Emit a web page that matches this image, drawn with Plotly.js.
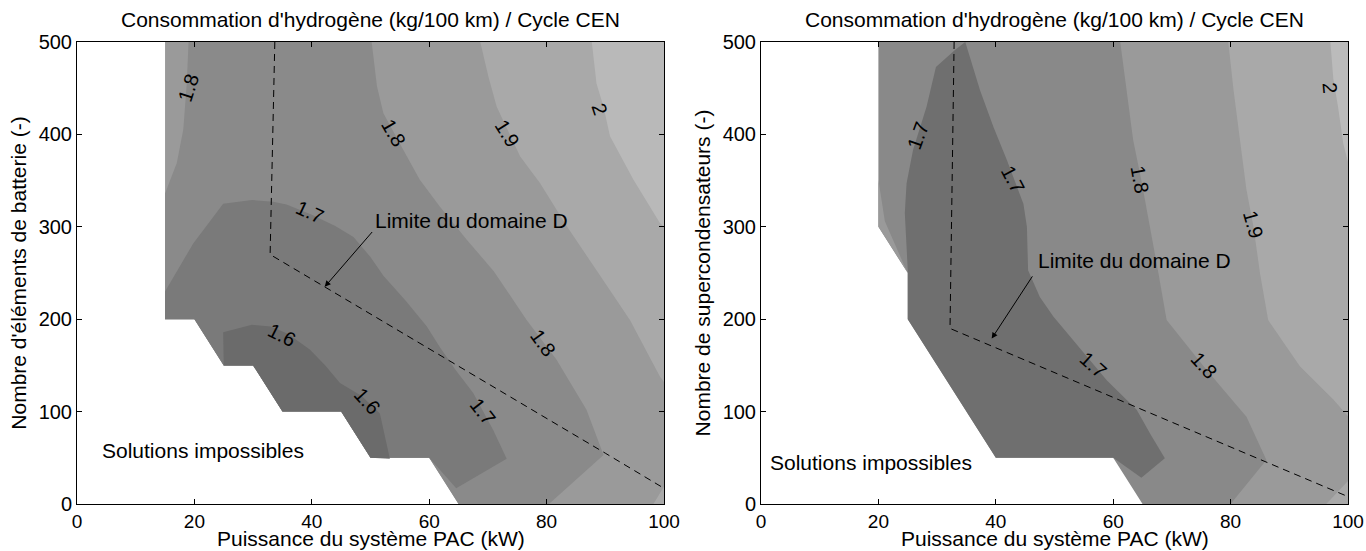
<!DOCTYPE html>
<html><head><meta charset="utf-8">
<script src="https://cdn.plot.ly/plotly-3.0.1.min.js"></script>
<style>html,body{margin:0;padding:0;background:#fff}#chart{width:1366px;height:551px}</style>
</head><body><div id="chart"></div>
<script>
// ===== Left chart: battery (kW vs number of battery cells) =====
const leftDomainX = [15,100,100,65,60,50,45,35,30,25,20,15];
const leftDomainY = [500,500,0,0,50,50,100,100,150,150,200,200];
const leftAbove19X = [68.7,70.1,71.5,75.5,78.9,83.5,88.5,94.2,99.3,100,100];
const leftAbove19Y = [500,462,430,376,347,300,253,199,138,132,500];
const leftCorner19X = [98.2,100,100];
const leftCorner19Y = [0,19,0];
const leftAbove20X = [87.7,88.5,89.7,90.8,94.8,99.3,100,100];
const leftAbove20Y = [500,455,430,398,351,304,300,500];
const leftBelow18X = [19,50.2,51.1,52.2,55.6,58.4,61.8,66.4,71,76.6,81.7,86.8,89.7,80.4,65,60,50,45,35,30,25,20,15,15,17,18.1,18.7];
const leftBelow18Y = [500,500,452,423,383,351,322,286,252,199,156,102,53,0,0,50,50,100,100,150,150,200,200,336,369,405,455];
const leftBelow17X = [15,19.8,24.9,29.8,33.4,35.7,40,44,47.1,49.9,52.2,56,59.6,61.8,64.5,67.5,70.9,73.2,64.6,60,50,45,35,30,25,20,15];
const leftBelow17Y = [230,282,325,329,327,324,313,301,289,268,247,220,192,170,145,120,80,49,17,50,50,100,100,150,150,200,200];
const leftBelow16X = [24.9,29.8,33,36,39.7,42.3,44.8,48.5,51.6,53.3,50,45,35,30,25];
const leftBelow16Y = [186,194,192,184,167,150,131,117,98,49,50,100,100,150,150];
const leftLimitX = [33.7,32.9,90,100];
const leftLimitY = [500,270,55,17];
const leftLabelText = ['1.8','1.8','1.9','2','1.7','1.6','1.6','1.7','1.8'];
const leftLabelX = [19.0,53.9,73.2,89.1,39.7,34.9,49.4,69.2,79.4];
const leftLabelY = [450,401,401,428,316,183,111,100,174];
const leftLabelAngle = [-72,60,58,72,25,27,48,52,54];

// ===== Right chart: supercapacitors =====
const rightDomainX = [20,100,100,65,60,40,25,25,20];
const rightDomainY = [500,500,0,0,50,50,200,250,300];
const rightAbove18X = [61.2,62.3,63.4,64.8,66.3,67.7,69.1,72.5,75.4,79,82.7,86.1,80,100,100];
const rightAbove18Y = [500,448,394,350,300,250,199,172,149,122,94.5,47.6,0,0,500];
const rightSliver18X = [20,21.1,24.9,20];
const rightSliver18Y = [351,306,251,300];
const rightAbove19X = [79.6,80.5,81.6,82.7,83.9,85,86.4,91.8,97.5,100,100];
const rightAbove19Y = [500,448,394,340,300,250,199,149,113,95,500];
const rightCorner19X = [96.3,100,100];
const rightCorner19Y = [0,25,0];
const rightAbove20X = [97,97.5,98.3,99.2,100,100];
const rightAbove20Y = [500,460,430,390,370,500];
const rightBelow17X = [34.8,37.3,39.6,41.9,44.7,45.3,45.5,47.5,49.8,58.9,64,66.3,68.8,64.8,60,40,25,25,24.5,24.8,25.9,28.2,29.8,33];
const rightBelow17Y = [500,448,408,372,325,300,253,224,203,134,102,76,49.5,28.5,50,50,200,253,315,347,383,430,473,491];
const rightLimitX = [32.9,32.2,100];
const rightLimitY = [500,190,8];
const rightLabelText = ['1.7','1.7','1.8','1.9','2','1.7','1.8'];
const rightLabelX = [26.8,43.0,64.6,83.9,96.9,56.6,75.4];
const rightLabelY = [399,351,351,302,450,150,150];
const rightLabelAngle = [-70,62,80,74,85,42,48];

const xTitle = 'Puissance du système PAC (kW)';
const chartTitle = "Consommation d'hydrogène (kg/100 km) / Cycle CEN";
const leftYTitle = "Nombre d'éléments de batterie (-)";
const rightYTitle = 'Nombre de supercondensateurs (-)';
const impossibleText = 'Solutions impossibles';
const limitText = 'Limite du domaine D';

const FONT = 'Liberation Sans, Arial, Helvetica, sans-serif';

function poly(x, y, color, xa, ya) {
  return {x: x, y: y, type: 'scatter', mode: 'lines', fill: 'toself', fillcolor: color,
    line: {width: 0, color: color}, xaxis: xa, yaxis: ya, hoverinfo: 'skip', showlegend: false};
}
function dashed(x, y, xa, ya) {
  return {x: x, y: y, type: 'scatter', mode: 'lines', line: {color: '#000', width: 1, dash: '7px,5px'},
    xaxis: xa, yaxis: ya, hoverinfo: 'skip', showlegend: false};
}

const traces = [
  poly(leftDomainX, leftDomainY, '#9a9a9a', 'x', 'y'),
  poly(leftAbove19X, leftAbove19Y, '#a9a9a9', 'x', 'y'),
  poly(leftCorner19X, leftCorner19Y, '#a9a9a9', 'x', 'y'),
  poly(leftAbove20X, leftAbove20Y, '#b9b9b9', 'x', 'y'),
  poly(leftBelow18X, leftBelow18Y, '#8a8a8a', 'x', 'y'),
  poly(leftBelow17X, leftBelow17Y, '#7a7a7a', 'x', 'y'),
  poly(leftBelow16X, leftBelow16Y, '#6b6b6b', 'x', 'y'),
  dashed(leftLimitX, leftLimitY, 'x', 'y'),

  poly(rightDomainX, rightDomainY, '#898989', 'x2', 'y2'),
  poly(rightAbove18X, rightAbove18Y, '#9a9a9a', 'x2', 'y2'),
  poly(rightSliver18X, rightSliver18Y, '#9a9a9a', 'x2', 'y2'),
  poly(rightAbove19X, rightAbove19Y, '#a9a9a9', 'x2', 'y2'),
  poly(rightCorner19X, rightCorner19Y, '#a9a9a9', 'x2', 'y2'),
  poly(rightAbove20X, rightAbove20Y, '#bbbbbb', 'x2', 'y2'),
  poly(rightBelow17X, rightBelow17Y, '#6f6f6f', 'x2', 'y2'),
  dashed(rightLimitX, rightLimitY, 'x2', 'y2')
];

function xAxis(domain) {
  return {domain: domain, range: [0, 100], tick0: 0, dtick: 20, ticks: 'inside', ticklen: 5,
    tickcolor: '#000', tickwidth: 1, mirror: 'ticks', showline: true, linecolor: '#000', linewidth: 1,
    showgrid: false, zeroline: false, fixedrange: true, automargin: false,
    tickfont: {family: FONT, size: 19, color: '#000'}};
}
function yAxis(domain, anchor, title) {
  return {domain: domain, anchor: anchor, range: [0, 500], tick0: 0, dtick: 100, ticks: 'inside', ticklen: 5,
    tickcolor: '#000', tickwidth: 1, mirror: 'ticks', showline: true, linecolor: '#000', linewidth: 1,
    showgrid: false, zeroline: false, fixedrange: true, automargin: false,
    tickfont: {family: FONT, size: 20, color: '#000'},
    title: {text: title, font: {family: FONT, size: 21, color: '#000'}, standoff: 6}};
}

const annotations = [];
function addLabels(texts, xs, ys, angles, xr, yr) {
  for (let i = 0; i < texts.length; i++) {
    annotations.push({x: xs[i], y: ys[i], xref: xr, yref: yr, text: texts[i], textangle: angles[i],
      showarrow: false, font: {family: FONT, size: 20, color: '#000'}});
  }
}
addLabels(leftLabelText, leftLabelX, leftLabelY, leftLabelAngle, 'x', 'y');
addLabels(rightLabelText, rightLabelX, rightLabelY, rightLabelAngle, 'x2', 'y2');

// titles above each panel and x-axis titles below
['x domain', 'x2 domain'].forEach(function (ref) {
  annotations.push({xref: ref, yref: 'paper', x: 0.5, y: 1 - 20/551, yanchor: 'middle', text: chartTitle,
    showarrow: false, font: {family: FONT, size: 21, color: '#000'}});
  annotations.push({xref: ref, yref: 'paper', x: 0.5, y: 0, yanchor: 'bottom', text: xTitle,
    showarrow: false, borderpad: 0, font: {family: FONT, size: 21, color: '#000'}});
});

// "Solutions impossibles"
annotations.push({xref: 'x', yref: 'y', x: 4.0, y: 58, xanchor: 'left', text: impossibleText, showarrow: false,
  font: {family: FONT, size: 21, color: '#000'}});
annotations.push({xref: 'x2', yref: 'y2', x: 1.2, y: 45, xanchor: 'left', text: impossibleText, showarrow: false,
  font: {family: FONT, size: 21, color: '#000'}});

// "Limite du domaine D" text + arrows
annotations.push({xref: 'x', yref: 'y', x: 50.4, y: 307, xanchor: 'left', text: limitText, showarrow: false,
  font: {family: FONT, size: 21, color: '#000'}});
annotations.push({xref: 'x', yref: 'y', x: 42.2, y: 235, axref: 'x', ayref: 'y', ax: 50.5, ay: 296, text: '',
  showarrow: true, arrowhead: 2, arrowsize: 1.2, arrowwidth: 1, arrowcolor: '#000'});
annotations.push({xref: 'x2', yref: 'y2', x: 46.9, y: 264, xanchor: 'left', text: limitText, showarrow: false,
  font: {family: FONT, size: 21, color: '#000'}});
annotations.push({xref: 'x2', yref: 'y2', x: 39.3, y: 179, axref: 'x2', ayref: 'y2', ax: 46.4, ay: 248, text: '',
  showarrow: true, arrowhead: 2, arrowsize: 1.2, arrowwidth: 1, arrowcolor: '#000'});

const yDom = [47/551, 509/551];
const layout = {
  width: 1366, height: 551,
  margin: {l: 0, r: 0, t: 0, b: 0},
  paper_bgcolor: '#fff', plot_bgcolor: '#fff',
  showlegend: false,
  font: {family: FONT, color: '#000'},
  xaxis: Object.assign(xAxis([77/1366, 664/1366]), {anchor: 'y'}),
  yaxis: yAxis(yDom, 'x', leftYTitle),
  xaxis2: Object.assign(xAxis([761/1366, 1348/1366]), {anchor: 'y2'}),
  yaxis2: yAxis(yDom, 'x2', rightYTitle),
  annotations: annotations
};

Plotly.newPlot('chart', traces, layout, {staticPlot: true, displayModeBar: false});
</script>
</body></html>
